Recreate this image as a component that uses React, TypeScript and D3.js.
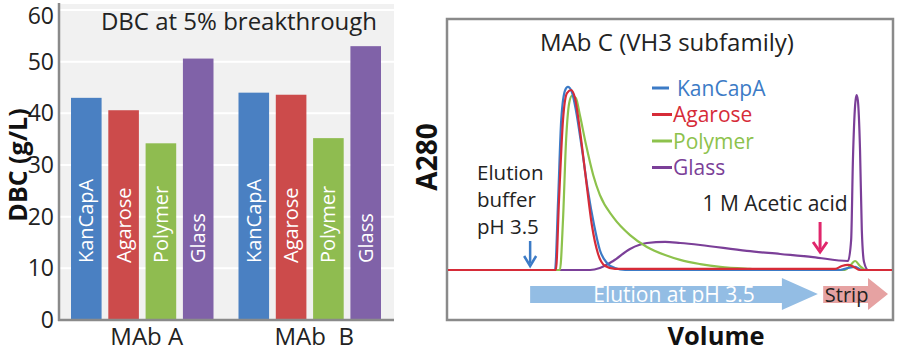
import * as d3 from 'd3'
import { useMemo } from 'react'

// left panel: DBC bar chart
const groups = ['MAb A', 'MAb  B']
const resins = ['KanCapA', 'Agarose', 'Polymer', 'Glass']
const dbcMabA = [43, 40.6, 34.2, 50.6]
const dbcMabB = [44, 43.6, 35.2, 53]
const dbcTicks = [0, 10, 20, 30, 40, 50, 60]

const barColors = ['#4a80c2', '#cc4b4b', '#8fbc50', '#8062a8']
const lineColors = ['#3c7bc6', '#d62b38', '#8dc24c', '#7b3f98']

// right panel: chromatogram (volume 0-100, A280 in % of elution peak)
const kancapaVol = [0, 24.1, 24.8, 25.5, 26.4, 27.0, 27.9, 28.8, 30.2, 31.5, 32.9, 34.2, 35.8, 37.6, 39.9, 88.3, 90.1, 91.7, 93.2, 100]
const kancapaAbs = [0, 0, 38.9, 83.3, 100, 101.7, 98.9, 88.9, 66.7, 44.4, 25, 11.1, 3.9, 1.1, 0, 0, 1.1, 1.7, 0, 0]

const agaroseVol = [0, 24.3, 25.0, 25.9, 26.8, 27.7, 28.6, 29.7, 31.1, 32.4, 33.8, 35.4, 37.6, 87.2, 88.7, 90.1, 91.4, 92.8, 100]
const agaroseAbs = [0, 0, 38.9, 83.3, 98.3, 100, 95.6, 77.8, 50, 25, 8.9, 2.2, 0.6, 0.6, 2.2, 2.8, 1.7, 0, 0]

const polymerVol = [0, 25.2, 25.9, 26.6, 27.3, 27.9, 28.8, 29.7, 31.1, 32.7, 34.2, 37.2, 41.0, 44.8, 48.9, 52.3, 56.8, 61.3, 68.0, 74.8, 89.4, 90.5, 91.7, 92.8, 94.1, 100]
const polymerAbs = [0, 0, 27.8, 72.2, 92.8, 96.7, 95.6, 86.1, 69.4, 52.8, 41.7, 29.4, 19.4, 12.8, 8.3, 5.6, 3.3, 1.7, 0.6, 0, 0, 2.2, 5.0, 2.2, 0, 0]

const glassVol = [0, 32.0, 34.2, 37.2, 41.0, 44.8, 48.9, 52.3, 56.8, 67.3, 74.8, 82.2, 90.1, 90.8, 91.2, 91.7, 92.0, 92.3, 92.8, 93.2, 93.7, 94.6, 100]
const glassAbs = [0, 0, 1.1, 5.0, 11.7, 15, 15.6, 15, 13.9, 10.6, 8.9, 7.2, 5.0, 16.7, 61.1, 91.7, 97.2, 94.4, 66.7, 22.2, 4.4, 0, 0]

const elutionStart = 18.5
const elutionHead = 75.2
const elutionTip = 83.3
const stripStart = 84.5
const stripHead = 94.6
const stripTip = 99.1
const aceticAcidAt = 83.8

const font = '"Open Sans", "Noto Sans", sans-serif'

const App = () => {
  const { yScale, groupScale, barScale, volScale, lineGenerator, chromSeries } = useMemo(() => {
    const yScale = d3.scaleLinear().domain([0, 60]).range([320, 10])
    const groupScale = d3.scaleBand().domain(groups).range([59, 394])
    const barScale = d3
      .scaleBand()
      .domain(resins)
      .range([12, groupScale.bandwidth() - 13])
      .paddingInner(0.18)
    const volScale = d3.scaleLinear().domain([0, 100]).range([448, 892])
    const absScale = d3.scaleLinear().domain([0, 100]).range([270, 90])
    const lineGenerator = d3
      .line<[number, number]>()
      .x((d) => volScale(d[0]))
      .y((d) => absScale(d[1]))
      .curve(d3.curveMonotoneX)
    const zip = (xs: number[], ys: number[]) => xs.map((x, i) => [x, ys[i]] as [number, number])
    const chromSeries = [
      { name: 'Glass', color: lineColors[3], points: zip(glassVol, glassAbs) },
      { name: 'Polymer', color: lineColors[2], points: zip(polymerVol, polymerAbs) },
      { name: 'KanCapA', color: lineColors[0], points: zip(kancapaVol, kancapaAbs) },
      { name: 'Agarose', color: lineColors[1], points: zip(agaroseVol, agaroseAbs) },
    ]
    return { yScale, groupScale, barScale, volScale, lineGenerator, chromSeries }
  }, [])

  const groupValues = [dbcMabA, dbcMabB]

  const arrowY0 = 278
  const arrowY1 = 286
  const arrowY2 = 303
  const arrowY3 = 310
  const arrow = (x0: number, xh: number, xt: number) =>
    `M${x0},${arrowY1}L${xh},${arrowY1}L${xh},${arrowY0}L${xt},${(arrowY0 + arrowY3) / 2}L${xh},${arrowY3}L${xh},${arrowY2}L${x0},${arrowY2}Z`

  return (
    <div style={{ position: 'fixed', left: 0, top: 0 }}>
      <svg width={900} height={351} style={{ display: 'block', fontFamily: font }}>
        <rect width={900} height={351} fill="white" />

        {/* ---------- left: DBC bars ---------- */}
        <rect x={59} y={4} width={335} height={316} fill="#f1f1f1" />
        {dbcTicks.slice(1).map((t) => (
          <line key={t} x1={59} x2={394} y1={yScale(t)} y2={yScale(t)} stroke="white" strokeWidth={2} />
        ))}
        {groups.map((g, gi) => (
          <g key={g} transform={`translate(${groupScale(g)},0)`}>
            {resins.map((r, ri) => {
              const x = barScale(r) as number
              const v = groupValues[gi][ri]
              return (
                <g key={r}>
                  <rect
                    x={x}
                    y={yScale(v)}
                    width={barScale.bandwidth()}
                    height={yScale(0) - yScale(v)}
                    fill={barColors[ri]}
                  />
                  <text
                    transform={`translate(${x + barScale.bandwidth() / 2 + 7},263) rotate(-90)`}
                    fill="white"
                    fontSize={20}
                  >
                    {r}
                  </text>
                </g>
              )
            })}
            <text
              x={groupScale.bandwidth() / 2 + 4}
              y={345}
              textAnchor="middle"
              fontSize={24}
              fill="#222"
              style={{ whiteSpace: 'pre' }}
            >
              {g}
            </text>
          </g>
        ))}
        <line x1={59} x2={59} y1={3} y2={321} stroke="#8a8a8a" strokeWidth={2.5} />
        <line x1={58} x2={394} y1={320} y2={320} stroke="#8a8a8a" strokeWidth={2.5} />
        {dbcTicks.map((t) => (
          <text
            key={t}
            x={54}
            y={t === 60 ? yScale(t) + 14 : yScale(t) + 8}
            textAnchor="end"
            fontSize={23}
            fill="#222"
          >
            {t}
          </text>
        ))}
        <text x={239} y={30} textAnchor="middle" fontSize={24} fill="#222">
          DBC at 5% breakthrough
        </text>
        <text
          transform="translate(27,165) rotate(-90)"
          textAnchor="middle"
          fontSize={25}
          fontWeight="bold"
          fill="#111"
        >
          DBC (g/L)
        </text>

        {/* ---------- right: chromatogram ---------- */}
        <rect x={447} y={19} width={446} height={301} fill="white" stroke="#8a8a8a" strokeWidth={2.5} />
        <text x={667} y={51} textAnchor="middle" fontSize={24} fill="#222">
          MAb C (VH3 subfamily)
        </text>
        {chromSeries.map((s) => (
          <path key={s.name} d={lineGenerator(s.points) as string} fill="none" stroke={s.color} strokeWidth={2.2} />
        ))}

        {resins.map((r, i) => (
          <g key={r} transform={`translate(652,${88 + i * 26.5})`}>
            <line x1={0} x2={i === 0 ? 17 : 20} y1={0} y2={0} stroke={lineColors[i]} strokeWidth={3} />
            <text x={i === 0 ? 25 : 21} y={7.5} fontSize={21} fill={lineColors[i]}>
              {r}
            </text>
          </g>
        ))}

        <text fontSize={20.5} fill="#222">
          <tspan x={477} y={180}>Elution</tspan>
          <tspan x={477} y={207}>buffer</tspan>
          <tspan x={477} y={234}>pH 3.5</tspan>
        </text>
        <line
          x1={volScale(elutionStart)}
          x2={volScale(elutionStart)}
          y1={241}
          y2={263}
          stroke="#3c7bc6"
          strokeWidth={2.5}
        />
        <path
          d={`M${volScale(elutionStart) - 6},256L${volScale(elutionStart)},266L${volScale(elutionStart) + 6},256`}
          fill="none"
          stroke="#3c7bc6"
          strokeWidth={2.5}
        />

        <text x={775} y={211} textAnchor="middle" fontSize={21} fill="#222">
          1 M Acetic acid
        </text>
        <line
          x1={volScale(aceticAcidAt)}
          x2={volScale(aceticAcidAt)}
          y1={222}
          y2={249}
          stroke="#e0266b"
          strokeWidth={3}
        />
        <path
          d={`M${volScale(aceticAcidAt) - 7},242L${volScale(aceticAcidAt)},252L${volScale(aceticAcidAt) + 7},242`}
          fill="none"
          stroke="#e0266b"
          strokeWidth={3}
        />

        <path d={arrow(volScale(elutionStart), volScale(elutionHead), volScale(elutionTip))} fill="#93bde4" />
        <path d={arrow(volScale(stripStart), volScale(stripHead), volScale(stripTip))} fill="#e6a2a2" />
        <text x={674} y={302} textAnchor="middle" fontSize={21} fill="white">
          Elution at pH 3.5
        </text>
        <text x={(volScale(stripStart) + volScale(stripHead)) / 2 + 1} y={302} textAnchor="middle" fontSize={20} fill="#222">
          Strip
        </text>

        <text
          transform="translate(437,157) rotate(-90)"
          textAnchor="middle"
          fontSize={28}
          fontWeight="bold"
          fill="#111"
        >
          A280
        </text>
        <text x={716} y={345} textAnchor="middle" fontSize={25.5} fontWeight="bold" fill="#111">
          Volume
        </text>
      </svg>
    </div>
  )
}

export default App
